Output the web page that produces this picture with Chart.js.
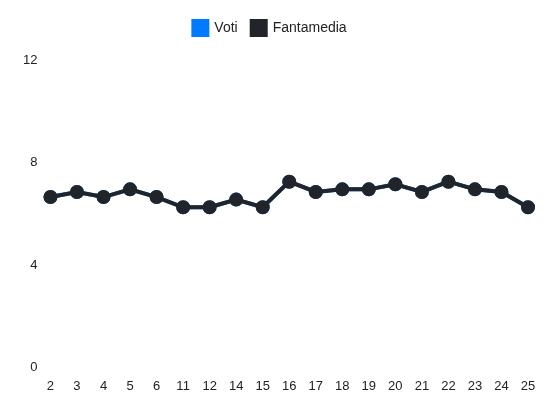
<!DOCTYPE html>
<html>
<head>
<meta charset="utf-8">
<script src="https://cdn.jsdelivr.net/npm/chart.js@4/dist/chart.umd.min.js"></script>
<style>
    html, body { margin: 0; padding: 0; background: #fff; }
    #wrap { width: 550px; height: 412px; }
</style>
</head>
<body>
<div id="wrap"><canvas id="myChart"></canvas></div>
<script>
const giornate = ['2', '3', '4', '5', '6', '11', '12', '14', '15', '16', '17', '18', '19', '20', '21', '22', '23', '24', '25'];
const voti = [6.65, 6.85, 6.65, 6.95, 6.65, 6.25, 6.25, 6.55, 6.25, 7.25, 6.85, 6.95, 6.95, 7.15, 6.85, 7.25, 6.95, 6.85, 6.25];
const fantamedia = [6.65, 6.85, 6.65, 6.95, 6.65, 6.25, 6.25, 6.55, 6.25, 7.25, 6.85, 6.95, 6.95, 7.15, 6.85, 7.25, 6.95, 6.85, 6.25];
const yTicks = [0, 4, 8, 12];

document.addEventListener('DOMContentLoaded', function () {
    Chart.defaults.font.family = '"Liberation Sans", Arial, sans-serif';
    Chart.defaults.font.size = 13;
    Chart.defaults.color = '#222';

    const ctx = document.getElementById('myChart').getContext('2d');
    const chartData = {
        labels: giornate,
        datasets: [
            {
                label: 'Voti',
                data: voti,
                backgroundColor: '#007bff',
                borderColor: '#007bff',
                borderWidth: 4,
                pointRadius: 5,
                pointBackgroundColor: '#007bff',
                tension: 0,
                order: 2
            },
            {
                label: 'Fantamedia',
                data: fantamedia,
                backgroundColor: '#212529',
                borderColor: '#212529',
                borderWidth: 4,
                pointRadius: 5,
                pointBackgroundColor: '#212529',
                tension: 0,
                order: 1
            }
        ]
    };
    const config = {
        type: 'line',
        data: chartData,
        options: {
            responsive: true,
            maintainAspectRatio: false,
            animation: false,
            layout: { padding: { left: 18, right: 22, top: 7, bottom: 15 } },
            plugins: {
                legend: {
                    labels: {
                        boxWidth: 14,
                        boxHeight: 14,
                        padding: 14,
                        color: '#222',
                        font: { size: 14 },
                        sort: (a, b) => a.datasetIndex - b.datasetIndex
                    }
                },
                tooltip: { enabled: false }
            },
            scales: {
                x: {
                    grid: { display: false },
                    border: { display: false },
                    ticks: { autoSkip: false, maxRotation: 0 }
                },
                y: {
                    min: 0,
                    max: 12,
                    afterBuildTicks: function (axis) {
                        axis.ticks = yTicks.map(v => ({ value: v }));
                    },
                    grid: { display: false },
                    border: { display: false },
                    ticks: { padding: 5 }
                }
            }
        },
        plugins: [{
            id: 'legendGap',
            beforeInit(chart) {
                const fit = chart.legend.fit;
                chart.legend.fit = function () {
                    fit.bind(chart.legend)();
                    this.height += 15;
                };
            },
            afterLayout(chart) {
                // nudge legend a bit left
                chart.legend.left -= 3;
                chart.legend.right -= 3;
            }
        }]
    };
    new Chart(ctx, config);
});
</script>
</body>
</html>
